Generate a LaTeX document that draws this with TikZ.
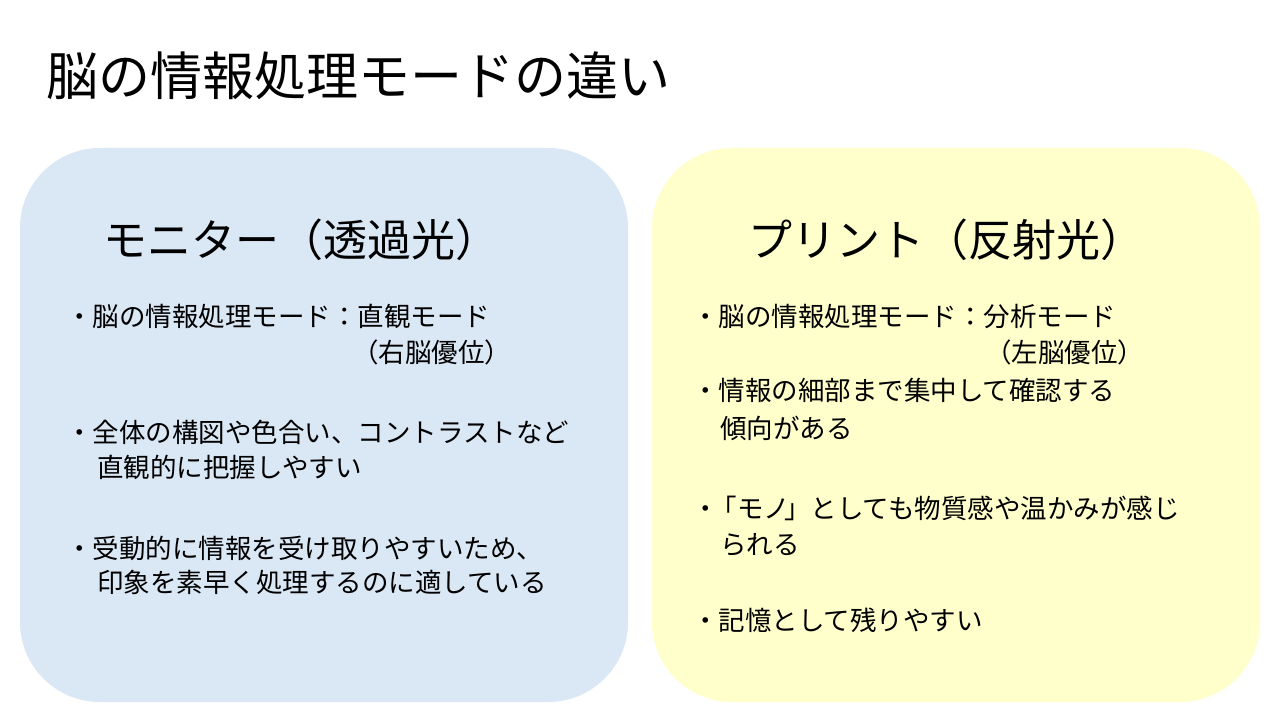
\documentclass[tikz,border=0pt]{standalone}
\usepackage{fontspec}
\setmainfont{Noto Sans CJK JP}
\definecolor{bluebox}{HTML}{DAE7F5}
\definecolor{yelbox}{HTML}{FFFFCC}
\begin{document}
\begin{tikzpicture}[x=1pt,y=-1pt,
  txt/.style={anchor=west,inner sep=0pt,font=\fontsize{26.5}{30}\selectfont},
  head/.style={anchor=west,inner sep=0pt,font=\fontsize{44}{48}\selectfont},
  panel/.style={rounded corners=80pt}]
\useasboundingbox[fill=white] (0,0) rectangle (1279,719);
\fill[bluebox,panel] (20,148) rectangle (628,702);
\fill[yelbox,panel] (652,148) rectangle (1260,702);
\node[anchor=west,inner sep=0pt,font=\fontsize{52}{56}\selectfont] (title) at (46,76) {脳の情報処理モードの違い};
\node[head] (lh) at (103,240) {モニター（透過光）};
\node[head] (rh) at (748,240) {プリント（反射光）};
\node[txt] (l1) at (66,316) {・脳の情報処理モード：直観モード};
\node[txt] (l1b) at (352,352) {（右脳優位）};
\node[txt] (l2) at (66,432) {・全体の構図や色合い、コントラストなど};
\node[txt] (l2b) at (97,467) {直観的に把握しやすい};
\node[txt] (l3) at (66,548) {・受動的に情報を受け取りやすいため、};
\node[txt] (l3b) at (97,582) {印象を素早く処理するのに適している};
\node[txt] (r1) at (692,316) {・脳の情報処理モード：分析モード};
\node[txt] (r1b) at (985,352) {（左脳優位）};
\node[txt] (r2) at (692,390) {・情報の細部まで集中して確認する};
\node[txt] (r2b) at (720,428) {傾向がある};
\node[txt] (r3) at (692,508) {・\kern-8pt「モノ\kern-6pt」としても物質感や温かみが感じ};
\node[txt] (r3b) at (720,545) {られる};
\node[txt] (r4) at (692,620) {・記憶として残りやすい};
\end{tikzpicture}
\end{document}
